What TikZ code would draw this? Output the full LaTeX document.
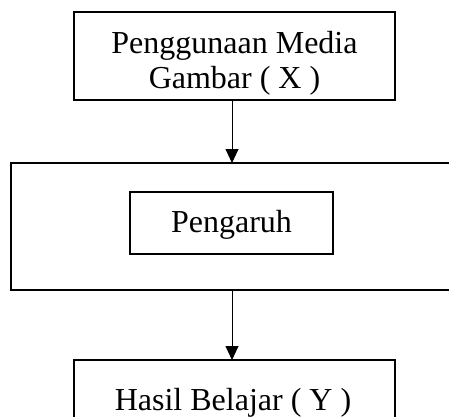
\documentclass[tikz,border=0pt]{standalone}
\usepackage{fontspec}
\setmainfont{Liberation Serif}
\usetikzlibrary{arrows.meta}
\tikzset{
  boxline/.style={draw, line width=1.4pt},
  txt/.style={font=\fontsize{32}{35}\selectfont, inner sep=0pt, anchor=base},
  conn/.style={line width=0.9pt, -{Triangle[length=14pt,width=13pt]}}
}
\begin{document}
\begin{tikzpicture}[x=1pt,y=-1pt]
\useasboundingbox (0,0) rectangle (449,416);
% top box
\draw[boxline] (74,12) rectangle (395,100);
\node[txt] (t1) at (234.5,53) {Penggunaan Media};
\node[txt] (t2) at (234.5,88) {Gambar ( X )};
\coordinate (topout) at (232,100);
% big box
\draw[boxline] (11,163) rectangle (475,290);
\coordinate (bigin) at (232,163);
\coordinate (bigout) at (232,290);
% inner box
\node[boxline, minimum width=203pt, minimum height=62pt, inner sep=0pt] (inner) at (231.5,223) {};
\node[txt] (t3) at (231.5,232) {Pengaruh};
% bottom box
\draw[boxline] (74,360) rectangle (395,440);
\coordinate (botin) at (232,360);
\node[txt] (t4) at (233,410) {Hasil Belajar ( Y )};
% connectors
\draw[conn] (topout) -- (bigin);
\draw[conn] (bigout) -- (botin);
\end{tikzpicture}
\end{document}
